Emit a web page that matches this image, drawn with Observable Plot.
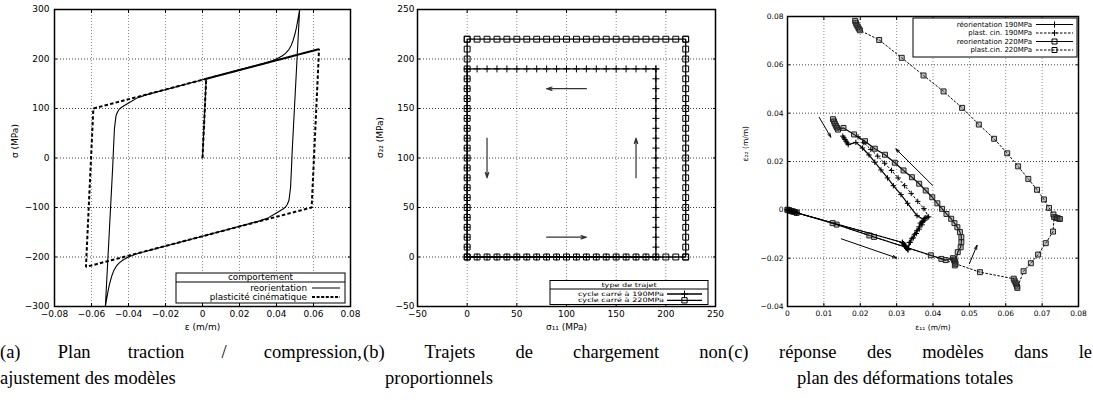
<!DOCTYPE html>
<html><head><meta charset="utf-8">
<script src="https://cdn.jsdelivr.net/npm/d3@7"></script>
<script src="https://cdn.jsdelivr.net/npm/@observablehq/plot@0.6"></script>
<style>
html,body{margin:0;padding:0;background:#fff;}
#root{position:relative;width:1093px;height:408px;overflow:hidden;background:#fff;}
.panel{position:absolute;top:0;}
.cap{position:absolute;font-family:"Liberation Serif","DejaVu Serif",serif;font-size:18.5px;line-height:20px;color:#000;white-space:nowrap;}
.just{text-align:justify;text-align-last:justify;white-space:normal;}
</style></head>
<body><div id="root"></div>
<script>
// ---------- Panel (a) data ----------
const ticksAX = [-0.08,-0.06,-0.04,-0.02,0,0.02,0.04,0.06,0.08];
const ticksAY = [-300,-200,-100,0,100,200,300];
const epsReor = [0,0.002,0.01,0.02,0.03,0.035,0.038,0.0405,0.043,0.045,0.0467,0.048,0.049,0.05,0.0508,0.0515,0.0521,0.0525,
  0.0485,0.0481,0.0476,0.047,0.0467,0.0458,0.0449,0.0435,0.0422,0.0395,0.035,0.03,0,-0.03,-0.035,-0.038,-0.0405,-0.043,-0.045,-0.0467,-0.048,-0.049,-0.05,-0.0508,-0.0515,-0.0521,-0.0525,
  -0.0485,-0.0481,-0.0476,-0.047,-0.0467,-0.0458,-0.0449,-0.0435,-0.0422,-0.0395,-0.035,-0.03,0,0.03,0.035];
const sigReor = [0,160,168,178,188,193,197,201,206,212,219,228,238,251,264,278,291,300,
  15,-20,-59,-78,-86,-94,-99,-103,-106,-112,-122,-128,-158,-188,-193,-197,-201,-206,-212,-219,-228,-238,-251,-264,-278,-291,-300,
  -15,20,59,78,86,94,99,103,106,112,122,128,158,188,193];
const epsPlast = [0,0.002,0.063,0.059,-0.063,-0.059,0.063];
const sigPlast = [0,160,220,-100,-220,100,220];
const legendA = ["reorientation","plasticité cinématique"];

// ---------- Panel (b) data ----------
const ticksBX = [-50,0,50,100,150,200,250];
const ticksBY = [-50,0,50,100,150,200,250];
const loads190 = [0,10,20,30,40,50,60,70,80,90,100,110,120,130,140,150,160,170,180,190];
const loads220 = [0,10,20,30,40,50,60,70,80,90,100,110,120,130,140,150,160,170,180,190,200,210,220];
const arrBX1 = [120,20,170,80], arrBY1 = [170,120,80,20];
const arrBX2 = [80,20,170,120], arrBY2 = [170,80,120,20];
const legendB = ["cycle carré à 190MPa","cycle carré à 220MPa"];

// ---------- Panel (c) data ----------
const ticksCX = [0,0.01,0.02,0.03,0.04,0.05,0.06,0.07,0.08];
const ticksCY = [-0.04,-0.02,0,0.02,0.04,0.06,0.08];
const reor190X = [0,0.0005,0.001,0.0015,0.002,0.0025, 0.0316,0.0319,0.0322,0.0325,0.0328,0.0331, 0.0335,0.0342,0.0349,0.0356,0.0362, 0.0365,0.0369,0.0373,0.0377, 0.0356,0.033,0.0312,0.0291,0.0275,0.0257,0.024,0.0224,0.0206,0.0188, 0.0167,0.0164,0.0161,0.0158,0.0155,0.0152];
const reor190Y = [0,-0.0002,-0.0005,-0.0007,-0.0009,-0.0012, -0.0135,-0.0141,-0.0147,-0.0153,-0.0159,-0.0165, -0.0135,-0.0118,-0.0101,-0.0085,-0.007, -0.0055,-0.0051,-0.0047,-0.0043, -0.0024,0.0027,0.0063,0.01,0.0132,0.0165,0.0197,0.0227,0.0256,0.0279, 0.027,0.0277,0.0284,0.0291,0.0298,0.0305];
const plast190X = [0,0.0005,0.001,0.0015,0.002,0.0025, 0.0316,0.0319,0.0322,0.0325,0.0328,0.0331, 0.0338,0.0346,0.0354,0.0362,0.037, 0.0376,0.038,0.0384,0.0388, 0.0375,0.0358,0.034,0.0322,0.0304,0.0286,0.0267,0.0248,0.0229,0.021,0.0194];
const plast190Y = [0,-0.0002,-0.0005,-0.0007,-0.0009,-0.0012, -0.0135,-0.0141,-0.0147,-0.0153,-0.0159,-0.0165, -0.0134,-0.0116,-0.0098,-0.008,-0.0062, -0.0035,-0.0033,-0.0031,-0.0029, 0.0005,0.0035,0.0068,0.01,0.0132,0.0163,0.0193,0.0222,0.025,0.0278,0.0302];
const reor220X = [0,0.0005,0.001,0.0015,0.002,0.0025, 0.0124,0.0225,0.0394,0.0435, 0.0455,0.0458,0.046,0.0461,0.0462,0.046, 0.0468,0.0476,0.0478,0.0478,0.0474,0.0467,0.0459,0.045,0.0437,0.0425,0.0412,0.0398,0.038,0.0362,0.0342,0.0319,0.0295,0.0268,0.024,0.0213,0.0183,0.0154, 0.0139,0.0136,0.0133,0.013,0.0128,0.0125];
const reor220Y = [0,-0.0002,-0.0005,-0.0007,-0.0009,-0.0012, -0.0055,-0.0106,-0.0188,-0.0208, -0.02,-0.0206,-0.0212,-0.0218,-0.0224,-0.023, -0.0175,-0.0155,-0.0134,-0.0113,-0.0092,-0.0072,-0.0055,-0.0037,-0.0017,0.0004,0.0027,0.0052,0.008,0.0108,0.0135,0.0163,0.0195,0.0228,0.0253,0.0284,0.0312,0.0339, 0.0332,0.034,0.0348,0.0357,0.0366,0.0375];
const plast220X = [0,0.0005,0.001,0.0015,0.002,0.0025, 0.0135,0.0238,0.0423, 0.0529, 0.0622,0.0624,0.0627,0.0629,0.0631,0.0632, 0.0649,0.0669,0.0689,0.071,0.073, 0.0733,0.0737,0.0741,0.0745,0.0749, 0.0731,0.0719,0.0705,0.0686,0.0662,0.0634,0.0604,0.0568,0.0526,0.048,0.0429,0.0374,0.0314,0.0252, 0.0199,0.0196,0.0193,0.019,0.0188,0.0186];
const plast220Y = [0,-0.0002,-0.0005,-0.0007,-0.0009,-0.0012, -0.0061,-0.0112,-0.0203, -0.0258, -0.0285,-0.0293,-0.0301,-0.0309,-0.0317,-0.0323, -0.0254,-0.0221,-0.0185,-0.0138,-0.009, -0.003,-0.0032,-0.0034,-0.0036,-0.0038, -0.0019,0.0008,0.0043,0.0083,0.0128,0.018,0.0234,0.0294,0.0353,0.0422,0.049,0.0556,0.0629,0.0703, 0.0743,0.075,0.0758,0.0766,0.0774,0.0782];
const arrCX1 = [0.0087,0.0399,0.0148,0.05], arrCY1 = [0.0383,0.0101,-0.012,-0.0223];
const arrCX2 = [0.0119,0.0298,0.030,0.0521], arrCY2 = [0.0301,0.0252,-0.0199,-0.0147];
const legendC = ["réorientation 190MPa","plast. cin. 190MPa","reorientation 220MPa","plast.cin. 220MPa"];

// ---------- captions ----------
const captions1 = ["(a) Plan traction / compression,","(b) Trajets de chargement non","(c) réponse des modèles dans le"];
const captions2 = ["ajustement des modèles","proportionnels","plan des déformations totales"];

// ---------- helpers ----------
const FONT = "'DejaVu Sans', 'Liberation Sans', sans-serif";
const fmt = d3.format("~g");
const zip = (xs, ys) => xs.map((x, i) => ({x, y: ys[i]}));
const gridStyle = (op) => ({stroke: "#000", strokeOpacity: op, strokeDasharray: "1,2", strokeWidth: 1});

function frameMarks(xt, yt, o) {
  return [
    Plot.frame({stroke: "#000", strokeWidth: 1.5}),
    Plot.axisX(xt, {anchor: "bottom", tickSize: -3, tickPadding: 7, tickFormat: fmt, label: null}),
    Plot.axisX(xt, {anchor: "top", tickSize: -3, tickFormat: () => "", label: null}),
    Plot.axisY(yt, {anchor: "left", tickSize: -3, tickPadding: o.yPad, tickFormat: fmt, label: null}),
    Plot.axisY(yt, {anchor: "right", tickSize: -3, tickFormat: () => "", label: null}),
    Plot.text([o.xlabel], {text: d => d, frameAnchor: "bottom", dy: 23}),
    Plot.text([o.ylabel], {text: d => d, frameAnchor: "left", dx: -o.ydx, rotate: -90})
  ];
}

function drawLegend(svg, cfg) {
  const g = d3.select(svg).append("g").attr("font-family", FONT).attr("fill", "#000");
  g.append("rect").attr("x", cfg.x0).attr("y", cfg.y0).attr("width", cfg.x1 - cfg.x0).attr("height", cfg.y1 - cfg.y0)
    .attr("fill", "#fff").attr("stroke", "#000").attr("stroke-width", 1);
  if (cfg.title) {
    g.append("text").attr("transform", `translate(${(cfg.x0 + cfg.x1) / 2},${cfg.titleY}) scale(${cfg.sx},1)`)
      .attr("text-anchor", "middle").attr("dominant-baseline", "central").attr("font-size", cfg.fs).text(cfg.title);
    g.append("line").attr("x1", cfg.x0).attr("x2", cfg.x1).attr("y1", cfg.divY).attr("y2", cfg.divY).attr("stroke", "#000");
  }
  cfg.rows.forEach(r => {
    g.append("text").attr("transform", `translate(${cfg.textX},${r.y}) scale(${cfg.sx},1)`)
      .attr("text-anchor", "end").attr("dominant-baseline", "central").attr("font-size", cfg.fs).text(r.label);
    g.append("line").attr("x1", cfg.s0).attr("x2", cfg.s1).attr("y1", r.y).attr("y2", r.y)
      .attr("stroke", "#000").attr("stroke-width", r.sw).attr("stroke-dasharray", r.dash || null);
    if (r.sym) g.append("path").attr("transform", `translate(${(cfg.s0 + cfg.s1) / 2},${r.y})`)
      .attr("d", d3.symbol(r.sym, r.size)()).attr("fill", "none").attr("stroke", "#000").attr("stroke-width", 1);
  });
}

const root = document.getElementById("root");
function place(svg, left, width) {
  const d = document.createElement("div");
  d.className = "panel"; d.style.left = left + "px"; d.style.width = width + "px";
  d.appendChild(svg); root.appendChild(d);
}

// ---------- Panel (a) ----------
const plotA = Plot.plot({
  width: 365, height: 338, marginLeft: 54, marginRight: 15, marginTop: 9, marginBottom: 32,
  style: {fontFamily: FONT, fontSize: "9px", background: "#fff", color: "#000"},
  x: {domain: [-0.08, 0.08]}, y: {domain: [-300, 300]},
  marks: [
    Plot.gridX(ticksAX, gridStyle(0.45)),
    Plot.gridY(ticksAY, gridStyle(0.75)),
    Plot.line(zip(epsPlast, sigPlast), {x: "x", y: "y", stroke: "#000", strokeWidth: 2, strokeDasharray: "3.5,2.2", strokeLinecap: "butt", strokeLinejoin: "miter"}),
    Plot.line(zip(epsReor, sigReor), {x: "x", y: "y", stroke: "#000", strokeWidth: 1.1}),
    ...frameMarks(ticksAX, ticksAY, {yPad: 8, xlabel: "ε (m/m)", ylabel: "σ (MPa)", ydx: 39})
  ]
});
drawLegend(plotA, {x0: 176, x1: 345, y0: 273, y1: 303, title: "comportement", titleY: 277.5, divY: 282,
  fs: 8, sx: 1.1, textX: 307, s0: 312, s1: 340,
  rows: [{label: legendA[0], y: 288, sw: 1}, {label: legendA[1], y: 297, sw: 2, dash: "3,1.6"}]});
place(plotA, 0, 365);

// ---------- Panel (b) ----------
const path190 = [...loads190.map(l => ({x: l, y: 0})), ...loads190.map(l => ({x: 190, y: l})),
  ...loads190.map(l => ({x: 190 - l, y: 190})), ...loads190.map(l => ({x: 0, y: 190 - l}))];
const path220 = [...loads220.map(l => ({x: l, y: 0})), ...loads220.map(l => ({x: 220, y: l})),
  ...loads220.map(l => ({x: 220 - l, y: 220})), ...loads220.map(l => ({x: 0, y: 220 - l}))];
const arrowsB = arrBX1.map((x1, i) => ({x1, y1: arrBY1[i], x2: arrBX2[i], y2: arrBY2[i]}));
const plotB = Plot.plot({
  width: 365, height: 338, marginLeft: 52, marginRight: 15, marginTop: 9, marginBottom: 32,
  style: {fontFamily: FONT, fontSize: "9px", background: "#fff", color: "#000"},
  x: {domain: [-50, 250]}, y: {domain: [-50, 250]},
  marks: [
    Plot.gridX(ticksBX, gridStyle(0.45)),
    Plot.gridY(ticksBY, gridStyle(0.75)),
    Plot.line(path220, {x: "x", y: "y", stroke: "#000", strokeWidth: 1.3}),
    Plot.dot(path220, {x: "x", y: "y", symbol: "square", r: 3.3, stroke: "#000", fill: "none", strokeWidth: 1}),
    Plot.line(path190, {x: "x", y: "y", stroke: "#000", strokeWidth: 1.3}),
    Plot.dot(path190, {x: "x", y: "y", symbol: "plus", r: 2.4, stroke: "#000", strokeWidth: 1}),
    Plot.arrow(arrowsB, {x1: "x1", y1: "y1", x2: "x2", y2: "y2", stroke: "#333", strokeWidth: 1.2, headLength: 7, headAngle: 35}),
    ...frameMarks(ticksBX, ticksBY, {yPad: 6, xlabel: "σ₁₁ (MPa)", ylabel: "σ₂₂ (MPa)", ydx: 37})
  ]
});
drawLegend(plotB, {x0: 185, x1: 343, y0: 280.5, y1: 304.5, title: "type de trajet", titleY: 285, divY: 289,
  fs: 6, sx: 1.35, textX: 299, s0: 302, s1: 337,
  rows: [{label: legendB[0], y: 294, sw: 1.3, sym: d3.symbolPlus, size: 18},
         {label: legendB[1], y: 300.3, sw: 1.3, sym: d3.symbolSquare, size: 28}]});
place(plotB, 365, 365);

// ---------- Panel (c) ----------
const arrowsC = arrCX1.map((x1, i) => ({x1, y1: arrCY1[i], x2: arrCX2[i], y2: arrCY2[i]}));
const sq = {symbol: "square", r: 2.8, stroke: "#222", fill: "#555", fillOpacity: 0.35, strokeWidth: 1};
const pl = {symbol: "plus", r: 1.9, stroke: "#000", strokeWidth: 1};
const dashed = {stroke: "#000", strokeWidth: 1, strokeDasharray: "2.5,1.5", strokeLinecap: "butt"};
const plotC = Plot.plot({
  width: 363, height: 338, marginLeft: 57, marginRight: 15, marginTop: 16, marginBottom: 32,
  style: {fontFamily: FONT, fontSize: "7.5px", background: "#fff", color: "#000"},
  x: {domain: [0, 0.08]}, y: {domain: [-0.04, 0.08]},
  marks: [
    Plot.gridX(ticksCX, gridStyle(0.45)),
    Plot.gridY(ticksCY, gridStyle(0.75)),
    Plot.line(zip(plast220X, plast220Y), {x: "x", y: "y", ...dashed}),
    Plot.dot(zip(plast220X, plast220Y), {x: "x", y: "y", ...sq}),
    Plot.line(zip(reor220X, reor220Y), {x: "x", y: "y", stroke: "#000", strokeWidth: 1.2}),
    Plot.dot(zip(reor220X, reor220Y), {x: "x", y: "y", ...sq}),
    Plot.line(zip(plast190X, plast190Y), {x: "x", y: "y", ...dashed}),
    Plot.dot(zip(plast190X, plast190Y), {x: "x", y: "y", ...pl}),
    Plot.line(zip(reor190X, reor190Y), {x: "x", y: "y", stroke: "#000", strokeWidth: 1.2}),
    Plot.dot(zip(reor190X, reor190Y), {x: "x", y: "y", ...pl}),
    Plot.arrow(arrowsC, {x1: "x1", y1: "y1", x2: "x2", y2: "y2", stroke: "#000", strokeWidth: 1, headLength: 6, headAngle: 35}),
    ...frameMarks(ticksCX, ticksCY, {yPad: 7, xlabel: "ε₁₁ (m/m)", ylabel: "ε₂₂ (m/m)", ydx: 42})
  ]
});
drawLegend(plotC, {x0: 183, x1: 347, y0: 18, y1: 57,
  fs: 7, sx: 1, textX: 302, s0: 306, s1: 343,
  rows: [{label: legendC[0], y: 24.5, sw: 1.2, sym: d3.symbolPlus, size: 14},
         {label: legendC[1], y: 33, sw: 1, dash: "2.5,1.5", sym: d3.symbolPlus, size: 14},
         {label: legendC[2], y: 41.5, sw: 1.2, sym: d3.symbolSquare, size: 25},
         {label: legendC[3], y: 50, sw: 1, dash: "2.5,1.5", sym: d3.symbolSquare, size: 25}]});
place(plotC, 730, 363);

// ---------- captions ----------
const cap1Pos = [[0, 362], [363, 364], [728, 364]];
const cap2Left = [0, 385, 797];
captions1.forEach((t, i) => {
  const d = document.createElement("div");
  d.className = "cap just"; d.style.left = cap1Pos[i][0] + "px"; d.style.width = cap1Pos[i][1] + "px"; d.style.top = "342px";
  d.textContent = t; root.appendChild(d);
});
captions2.forEach((t, i) => {
  const d = document.createElement("div");
  d.className = "cap"; d.style.left = cap2Left[i] + "px"; d.style.top = "368px";
  d.textContent = t; root.appendChild(d);
});
</script></body></html>
